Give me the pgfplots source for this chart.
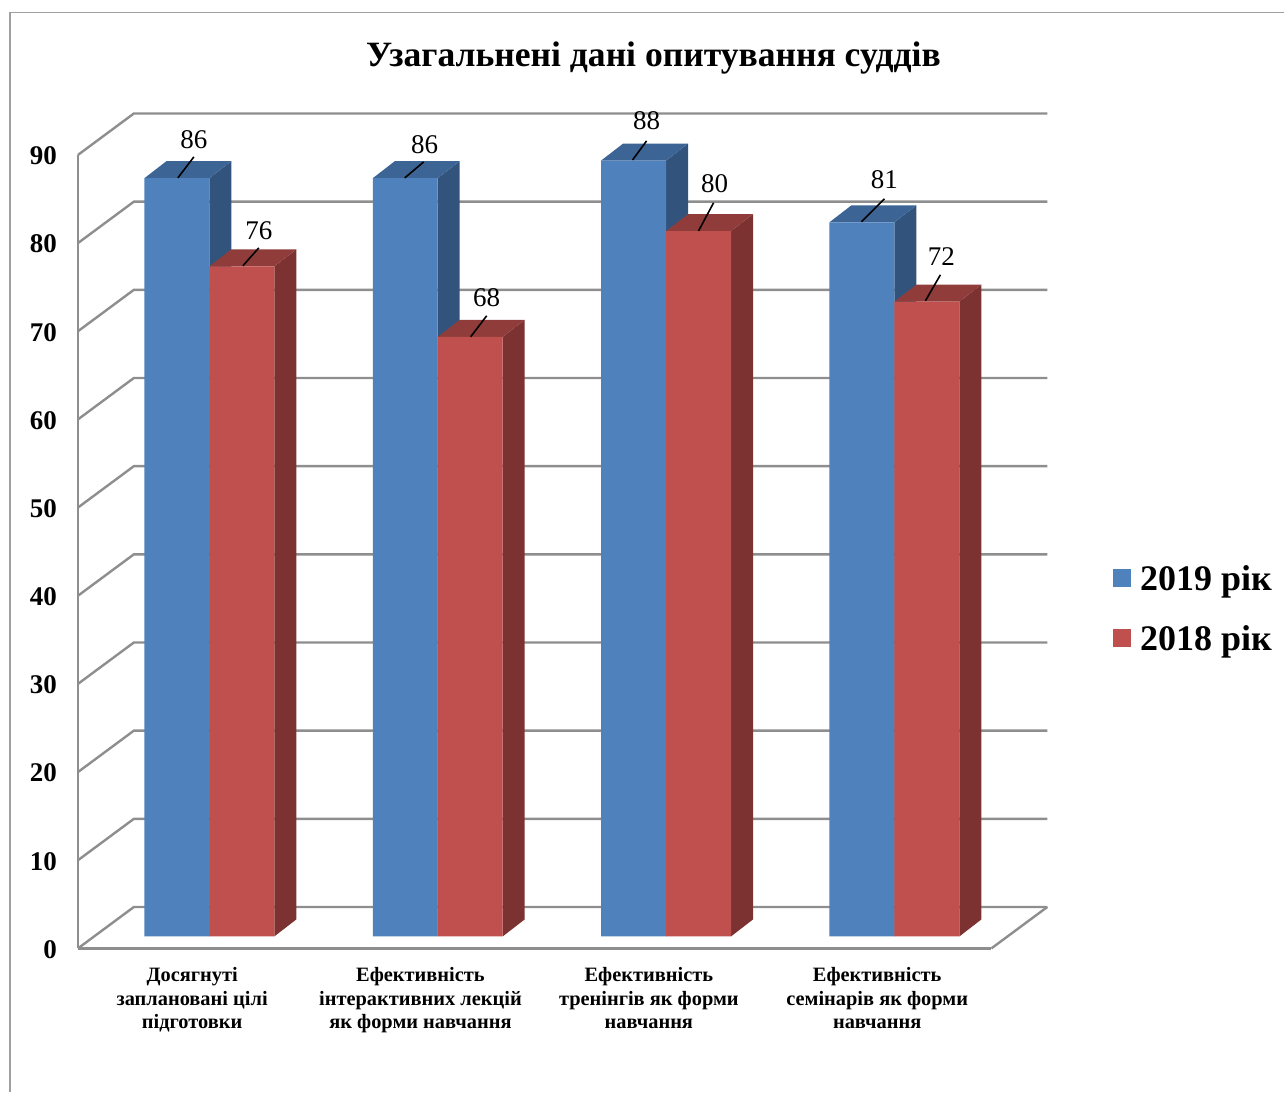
\documentclass[border=0pt]{standalone}
\usepackage{fontspec}
\setmainfont{Liberation Serif}
\usepackage{pgfplots}
\pgfplotsset{compat=1.18}

\definecolor{blueF}{HTML}{4F81BD}
\definecolor{blueT}{HTML}{3C6595}
\definecolor{blueS}{HTML}{32547C}
\definecolor{redF}{HTML}{C0504D}
\definecolor{redT}{HTML}{8F3C3A}
\definecolor{redS}{HTML}{7C3231}
\definecolor{gridc}{HTML}{8E8E8E}

% reference pixels to axis units (picture is 0.5pt per pixel)
\pgfmathdeclarefunction{px}{1}{\pgfmathparse{(#1-192.25)/228.5}}
\pgfmathdeclarefunction{py}{1}{\pgfmathparse{(949-#1)/8.822}}

% side and top of a bar: category, left edge (px from centre), value, side, top
\newcommand{\barbox}[5]{%
  \pgfmathsetmacro\xa{#1+(#2)/228.5}
  \pgfmathsetmacro\xb{\xa+65/228.5}
  \pgfmathsetmacro\xc{\xb+22/228.5}
  \pgfmathsetmacro\xd{\xa+22/228.5}
  \pgfmathsetmacro\yo{12/8.822}
  \pgfmathsetmacro\yd{17/8.822}
  \pgfmathsetmacro\yt{#3+\yo}
  \pgfmathsetmacro\yu{#3+\yo+\yd}
  \pgfmathsetmacro\yb{\yo+\yd}
  \addplot[fill=#4, draw=none, forget plot] coordinates {(\xb,\yo) (\xc,\yb) (\xc,\yu) (\xb,\yt)} --cycle;
  \addplot[fill=#5, draw=none, forget plot] coordinates {(\xa,\yt) (\xb,\yt) (\xc,\yu) (\xd,\yu)} --cycle;
}
% data label with its leader line: line start, line end, label centre, text (px)
\newcommand{\lead}[7]{%
  \draw[black, line width=0.8pt] (axis cs:{px(#1)},{py(#2)}) -- (axis cs:{px(#3)},{py(#4)});
  \node[font=\fontsize{13.5}{15}\selectfont, inner sep=0pt, xshift=0.5pt] at (axis cs:{px(#5)},{py(#6)}) {#7};
}

\begin{document}
\begin{tikzpicture}
  \path (0,0) rectangle (642.5pt,546.5pt);
  \draw[color=gray!75, line width=0.8pt] (5pt,0) -- (5pt,540.2pt) -- (642.5pt,540.2pt);
  \begin{axis}[
      at={(39pt,72pt)}, anchor=south west,
      scale only axis, width=457pt, height=397pt,
      xmin=-0.5, xmax=3.5, ymin=0, ymax=90,
      clip=false,
      axis x line*=bottom, axis y line*=left,
      axis line style={gridc, line width=1.2pt, -},
      major tick style={draw=none},
      ytick={0,10,...,90},
      xtick={0,1,2,3},
      xticklabels={{Досягнуті\\заплановані цілі\\підготовки},
                   {Ефективність\\інтерактивних лекцій\\як форми навчання},
                   {Ефективність\\тренінгів як форми\\навчання},
                   {Ефективність\\семінарів як форми\\навчання}},
      x tick label style={align=center, font=\fontsize{10.2}{11.8}\selectfont\bfseries, yshift=-6pt},
      y tick label style={font=\fontsize{13.5}{15}\selectfont\bfseries, xshift=-7pt, yshift=-0.5pt},
      /pgf/number format/assume math mode=true,
      title={\fontsize{17.8}{20}\selectfont\bfseries Узагальнені дані опитування суддів},
      title style={at={(0.63,1.107)}, anchor=center},
      legend style={at={(1.1328,0.4265)}, anchor=west, draw=none, fill=none,
                    font=\fontsize{18}{20}\selectfont\bfseries, row sep=12pt, inner sep=0pt},
      legend cell align=left,
    ]
    % walls and floor
    \pgfplotsinvokeforeach{0,10,...,90}{
      \addplot[gridc, line width=1.2pt, forget plot] coordinates
        {(-0.5,#1) (-0.255,#1+4.7) (3.745,#1+4.7)};
    }
    \addplot[gridc, line width=1.2pt, forget plot] coordinates {(3.5,0) (3.745,4.7)};

    % 2019
    \barbox{0}{-47.75}{86}{blueS}{blueT}
    \barbox{1}{-47.75}{86}{blueS}{blueT}
    \barbox{2}{-47.75}{88}{blueS}{blueT}
    \barbox{3}{-47.75}{81}{blueS}{blueT}
    \addplot[ybar, bar width=32.5pt, bar shift=-7.625pt, yshift=6pt, fill=blueF, draw=none,
             legend image code/.code={\fill[blueF] (0pt,-9.5pt) rectangle (9pt,-0.5pt); \path (11.5pt,0pt);}]
      coordinates {(0,86) (1,86) (2,88) (3,81)};
    \addlegendentry{2019 рік}

    % 2018
    \barbox{0}{17.25}{76}{redS}{redT}
    \barbox{1}{17.25}{68}{redS}{redT}
    \barbox{2}{17.25}{80}{redS}{redT}
    \barbox{3}{17.25}{72}{redS}{redT}
    \addplot[ybar, bar width=32.5pt, bar shift=24.875pt, yshift=6pt, fill=redF, draw=none,
             legend image code/.code={\fill[redF] (0pt,-9.5pt) rectangle (9pt,-0.5pt); \path (11.5pt,0pt);}]
      coordinates {(0,76) (1,68) (2,80) (3,72)};
    \addlegendentry{2018 рік}

    \lead{178}{178}{194}{157}{193}{140}{86}
    \lead{243}{266}{259}{248}{258}{231}{76}
    \lead{405}{178}{424}{162}{424}{145}{86}
    \lead{471}{337}{487}{316}{486}{298}{68}
    \lead{633}{160}{647}{141}{646}{121}{88}
    \lead{699}{231}{714}{203}{714}{184}{80}
    \lead{862}{222}{885}{199}{884}{180}{81}
    \lead{926}{301}{941}{275}{941}{257}{72}
  \end{axis}
\end{tikzpicture}
\end{document}
